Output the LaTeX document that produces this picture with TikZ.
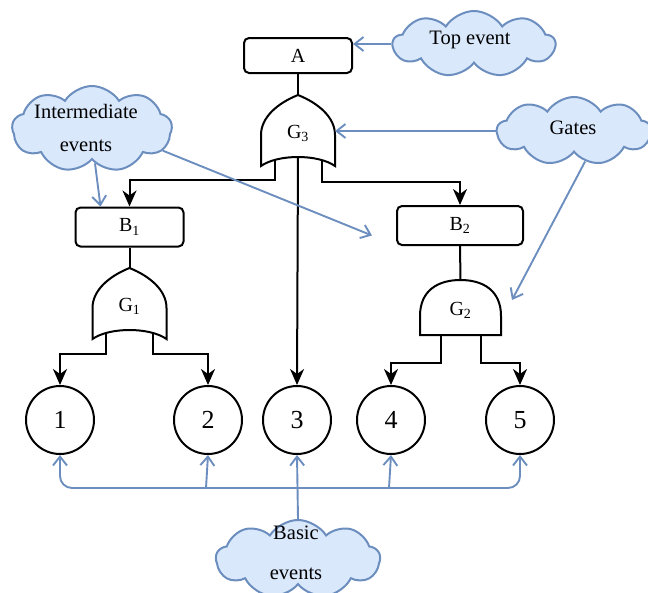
\documentclass[tikz,border=0pt]{standalone}
\usepackage{fontspec}
\setmainfont{Liberation Serif}
\usepackage{tikz}
\usetikzlibrary{shapes,arrows.meta,positioning,calc}
\definecolor{notefill}{HTML}{DAE8FC}
\definecolor{noteline}{HTML}{6C8EBF}

\tikzset{
    pics/orgate/.style={code={
        \draw[line width=2pt] (0,0) .. controls (20,8) and (37,22) .. (37,40) -- (37,71)
            .. controls (20,59) and (-20,59) .. (-37,71) -- (-37,40)
            .. controls (-37,22) and (-20,8) .. (0,0) -- cycle;
        \coordinate (-top) at (0,0);
        \coordinate (-l) at (-23.5,65);
        \coordinate (-m) at (0,62);
        \coordinate (-r) at (23.5,65);
        \coordinate (-e) at (37,36);
        \node[font=\fontsize{20}{24}\selectfont] (-lab) at (0,38) {#1};
    }},
    pics/andgate/.style={code={
        \draw[line width=2pt] (-40.5,55) -- (-40.5,36) .. controls (-40.5,10) and (-22,0) .. (0,0)
            .. controls (22,0) and (40.5,10) .. (40.5,36) -- (40.5,55) -- cycle;
        \coordinate (-top) at (0,0);
        \coordinate (-l) at (-20,55);
        \coordinate (-r) at (20,55);
        \coordinate (-e) at (40.5,20);
        \node[font=\fontsize{20}{24}\selectfont] (-lab) at (0,30) {#1};
    }},
}

\begin{document}
\begin{tikzpicture}[x=1pt, y=-1pt,
    box/.style={draw, rectangle, rounded corners=5pt, line width=2pt, font=\fontsize{20}{24}\selectfont},
    evt/.style={draw, circle, minimum size=68pt, inner sep=0pt, line width=2pt, font=\fontsize{26}{30}\selectfont},
    conn/.style={line width=2pt, -{Stealth[length=16pt, width=14pt, inset=5pt]}},
    cloudbox/.style={draw=noteline, fill=notefill, cloud, cloud puffs=9, cloud puff arc=115, line width=2pt, inner sep=0pt},
    cloudtxt/.style={align=center, font=\fontsize{20.5}{24}\selectfont},
    note/.style={draw=noteline, line width=1.9pt, -{Straight Barb[length=9pt, width=14pt]}}]
    \useasboundingbox (0,0) rectangle (648,592);

    % events
    \node [box, minimum width=108pt, minimum height=35pt] (A) at (298,55.5) {A};
    \node [box, minimum width=108pt, minimum height=39pt] (B1) at (129.5,227) {B\textsubscript{1}};
    \node [box, minimum width=126pt, minimum height=39pt] (B2) at (460,225.5) {B\textsubscript{2}};
    \node [evt] (E1) at (60,420) {1};
    \node [evt] (E2) at (208,420) {2};
    \node [evt] (E3) at (297,420) {3};
    \node [evt] (E4) at (391,420) {4};
    \node [evt] (E5) at (520,420) {5};

    % gates
    \pic (G3) at (298,95) {orgate={G\textsubscript{3}}};
    \pic (G1) at (129.5,268) {orgate={G\textsubscript{1}}};
    \pic (G2) at (460.5,280) {andgate={G\textsubscript{2}}};

    \draw [line width=2pt] (A.south) -- (G3-top);
    \draw [line width=2pt] (B1.south) -- (G1-top);
    \draw [line width=2pt] (B2.south) -- (G2-top);
    \draw [conn] (G3-l) -- ++(0,20) -| (B1.north);
    \draw [conn] (G3-r) -- ++(0,22) -| (B2.north);
    \draw [conn] (G3-m) -- (E3.north);
    \draw [conn] (G1-l) -- ++(0,21) -| (E1.north);
    \draw [conn] (G1-r) -- ++(0,21) -| (E2.north);
    \draw [conn] (G2-l) -- ++(0,28) -| (E4.north);
    \draw [conn] (G2-r) -- ++(0,28) -| (E5.north);

    % notes
    \node [cloudbox, minimum width=162pt, minimum height=66pt] (TopC) at (474,44) {};
    \node [cloudtxt] (TopT) at (470,40) {Top event};
    \node [cloudbox, minimum width=160pt, minimum height=86pt] (InterC) at (92,129) {};
    \node [cloudtxt] (InterT) at (86,128) {Intermediate\\[9pt]events};
    \node [cloudbox, minimum width=154pt, minimum height=68pt] (GatesC) at (574,131) {};
    \node [cloudtxt] (GatesT) at (573,128) {Gates};
    \node [cloudbox, minimum width=164pt, minimum height=78pt] (BasicC) at (298,559) {};
    \node [cloudtxt] (BasicT) at (296,553) {Basic\\[16pt]events};

    \draw [note] (TopC.west) -- (TopC.west -| A.east);
    \draw [note] (GatesC.west) -- (GatesC.west -| G3-e);
    \draw [note] (GatesC.290) -- ([xshift=11pt]G2-e);
    \draw [note] (InterC.275) -- ([xshift=-29pt]B1.north);
    \draw [note] (InterC.343) -- ([shift={(-24,10)}]B2.west);

    \coordinate (bus) at (0,488);
    \draw [note] (BasicC.north) -- (E3.south);
    \draw [note, {Straight Barb[length=9pt, width=14pt]}-{Straight Barb[length=9pt, width=14pt]}, rounded corners=12pt]
        (E1.south) -- (E1.south |- bus) -- (E5.south |- bus) -- (E5.south);
    \draw [note] ([xshift=-2pt]E2.south |- bus) -- (E2.south);
    \draw [note] ([xshift=-2pt]E4.south |- bus) -- (E4.south);
\end{tikzpicture}
\end{document}
